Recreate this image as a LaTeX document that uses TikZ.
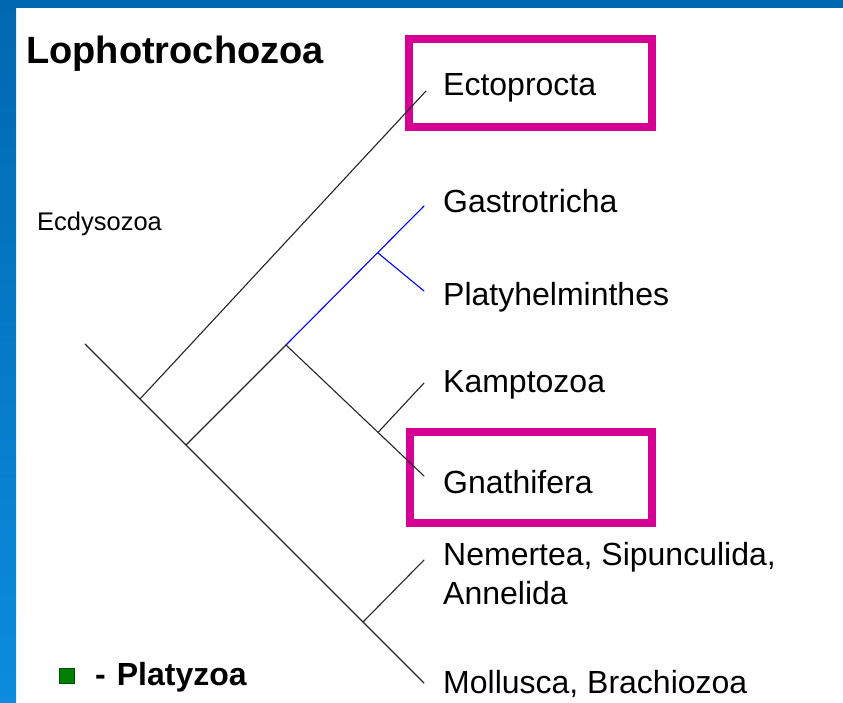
\documentclass[tikz,border=0pt]{standalone}
\usepackage{fontspec}
\setmainfont{Liberation Sans}
\usetikzlibrary{calc}
\definecolor{pinkbox}{RGB}{214,0,147}
\definecolor{bgblue}{RGB}{0,104,176}
\definecolor{bgbluelight}{RGB}{12,140,222}
\definecolor{legendgreen}{RGB}{0,128,0}
\tikzset{
  tree/.style={line width=1.1pt, black!85, line cap=round},
  bluetree/.style={line width=1.1pt, blue, line cap=round},
  lbl/.style={anchor=base west, inner sep=0pt, font=\fontsize{32}{39}\selectfont},
  hibox/.style={draw=pinkbox, line width=8pt},
}
\begin{document}
\begin{tikzpicture}[x=1pt,y=-1pt]
% canvas
\useasboundingbox (0,0) rectangle (843,702);
\fill[white] (0,0) rectangle (843,702);
\shade[top color=bgblue, bottom color=bgbluelight] (0,0) rectangle (16,702);
\fill[bgblue] (0,0) rectangle (843,8);

% highlight boxes
\draw[hibox] (409,39) rectangle (652,127);
\draw[hibox] (410,432) rectangle (652,523);

% tree coordinates
\coordinate (root) at (85,344);
\coordinate (b1) at (140,399);
\coordinate (b2) at (186,445);
\coordinate (b3) at (286,345);
\coordinate (b4) at (378,253);
\coordinate (b6) at (363,622);
\coordinate (eEcto) at (426,91);
\coordinate (eGast) at (424,206);
\coordinate (ePlaty) at (424,291);
\coordinate (eKamp) at (424,383);
\coordinate (eGnath) at (424,476);
\coordinate (eNem) at (424,560);
\coordinate (eMoll) at (424,683);
\coordinate (b5) at ($(b3)!0.667!(eGnath)$);

% branches
\draw[tree] (root) -- (eMoll);
\draw[tree] (b1) -- (eEcto);
\draw[tree] (b2) -- (b3);
\draw[bluetree] (b3) -- (eGast);
\draw[bluetree] (b4) -- (ePlaty);
\draw[tree] (b3) -- (eGnath);
\draw[tree] (b5) -- (eKamp);
\draw[tree] (b6) -- (eNem);

% labels
\node[anchor=base west, inner sep=0pt, font=\fontsize{38}{42}\selectfont\bfseries] (title) at (26,63) {Lophotrochozoa};
\node[anchor=base west, inner sep=0pt, font=\fontsize{25.5}{30}\selectfont] (ecdy) at (37,230) {Ecdysozoa};
\node[lbl] (lEcto) at (443,95) {Ectoprocta};
\node[lbl] (lGast) at (443,212) {Gastrotricha};
\node[lbl] (lPlaty) at (443,305) {Platyhelminthes};
\node[lbl] (lKamp) at (443,392) {Kamptozoa};
\node[lbl] (lGnath) at (443,493) {Gnathifera};
\node[lbl, align=left] (lNem) at (443,604) {Nemertea, Sipunculida,\\Annelida};
\node[lbl] (lMoll) at (443,693) {Mollusca, Brachiozoa};

% legend
\node[draw=black!70!green, fill=legendgreen, line width=0.8pt, minimum size=15pt, inner sep=0pt] (sq) at (66.5,675.5) {};
\node[anchor=base west, inner sep=0pt, font=\fontsize{32}{36}\selectfont\bfseries] (leg) at (95,685) {-\hspace{11pt}Platyzoa};
\end{tikzpicture}
\end{document}
